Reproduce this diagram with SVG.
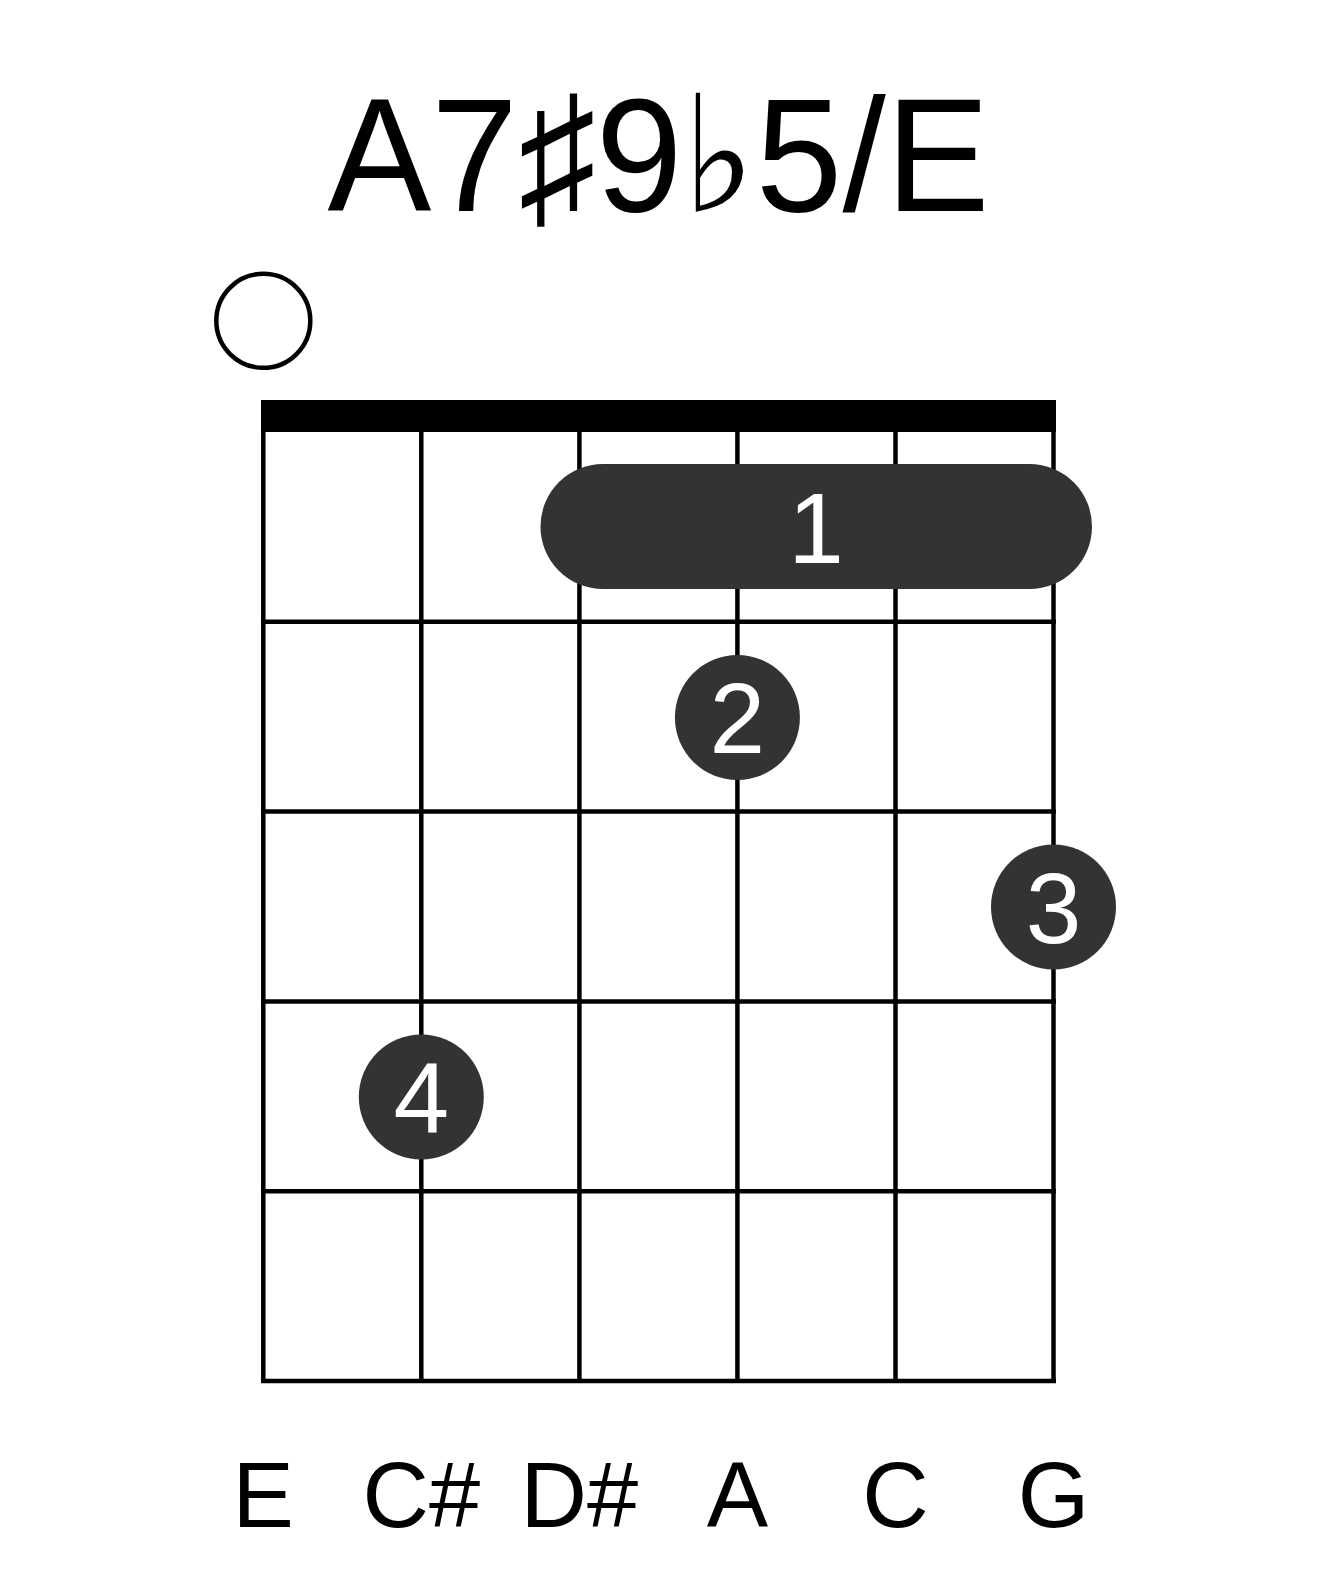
<svg xmlns="http://www.w3.org/2000/svg" width="1317" height="1581" viewBox="0 0 1317 1581">
<style>
.grid line{stroke:#000;stroke-width:4.5}
.dot{fill:#333333}
.fn{fill:#fff;font-family:"Liberation Sans",Arial,sans-serif;font-size:100px;text-anchor:middle}
.lbl{fill:#000;font-family:"Liberation Sans",Arial,sans-serif;font-size:92px;text-anchor:middle}
.title{fill:#000;font-family:"Liberation Sans","DejaVu Sans",Arial,sans-serif;font-size:162px;text-anchor:middle}
</style>
<rect width="1317" height="1581" fill="#fff"/>
<text class="title" x="658.5" y="211" textLength="662" lengthAdjust="spacingAndGlyphs">A7♯9♭5/E</text>
<g id="open-string-1"><circle cx="263.3" cy="320.8" r="47" fill="none" stroke="#000" stroke-width="4.5"/></g>
<g id="grid" class="grid">
<rect x="261" y="400" width="795" height="32" fill="#000"/>
<line x1="263.3" y1="430" x2="263.3" y2="1383"/>
<line x1="421.3" y1="430" x2="421.3" y2="1383"/>
<line x1="579.4" y1="430" x2="579.4" y2="1383"/>
<line x1="737.4" y1="430" x2="737.4" y2="1383"/>
<line x1="895.5" y1="430" x2="895.5" y2="1383"/>
<line x1="1053.5" y1="430" x2="1053.5" y2="1383"/>
<line x1="261" y1="621.8" x2="1056" y2="621.8"/>
<line x1="261" y1="811.6" x2="1056" y2="811.6"/>
<line x1="261" y1="1001.4" x2="1056" y2="1001.4"/>
<line x1="261" y1="1191.2" x2="1056" y2="1191.2"/>
<line x1="261" y1="1381" x2="1056" y2="1381"/>
</g>
<g id="finger-1"><rect class="dot" x="540.5" y="464" width="551.5" height="125" rx="62.5" ry="62.5"/><text class="fn" x="816" y="563">1</text></g>
<g id="finger-2"><circle class="dot" cx="737.4" cy="717.5" r="62.5"/><text class="fn" x="737.4" y="753">2</text></g>
<g id="finger-3"><circle class="dot" cx="1053.5" cy="907" r="62.5"/><text class="fn" x="1053.5" y="943">3</text></g>
<g id="finger-4"><circle class="dot" cx="421.3" cy="1097" r="62.5"/><text class="fn" x="421.3" y="1133">4</text></g>
<g id="labels">
<text class="lbl" x="263.3" y="1527">E</text>
<text class="lbl" x="421.3" y="1527">C#</text>
<text class="lbl" x="579.4" y="1527">D#</text>
<text class="lbl" x="737.4" y="1527">A</text>
<text class="lbl" x="895.5" y="1527">C</text>
<text class="lbl" x="1053.5" y="1527">G</text>
</g>
</svg>
